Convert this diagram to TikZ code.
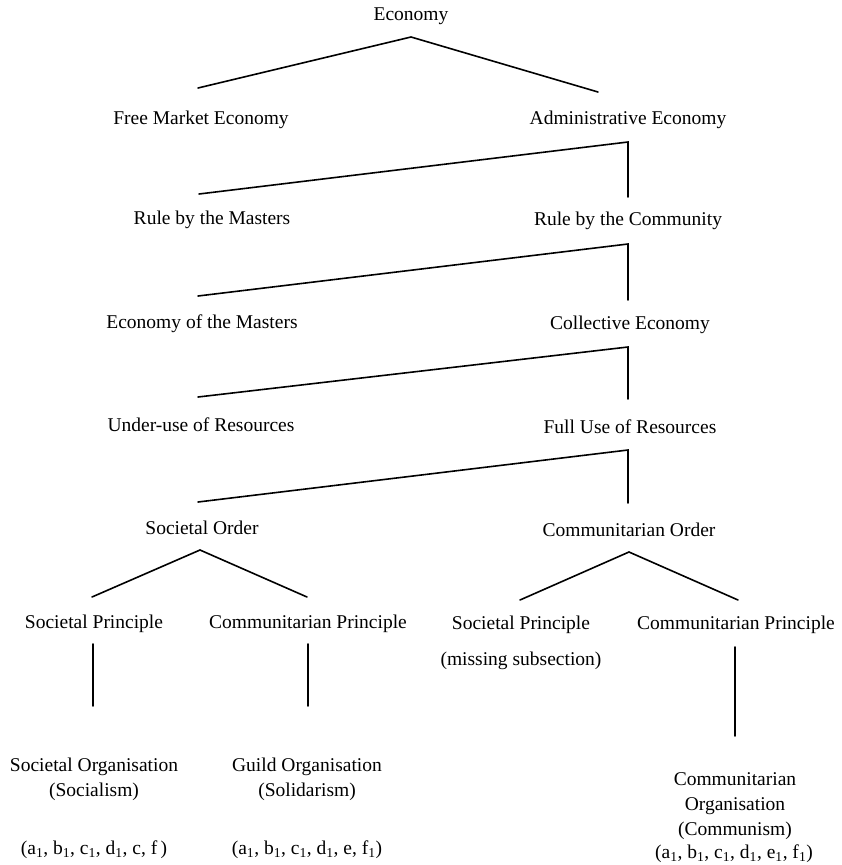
\documentclass[tikz,border=0pt]{standalone}
\usepackage{fontspec}
\setmainfont{Liberation Serif}
\begin{document}
\begin{tikzpicture}[x=1pt,y=-1pt,
  lbl/.style={inner sep=0pt, outer sep=0pt, anchor=base, align=center,
    font=\fontsize{19.5}{24.6}\selectfont},
  conn/.style={line width=1.6pt, line cap=round, line join=miter}]
\useasboundingbox[fill=white] (0,0) rectangle (841,865);
% texts
\node[lbl] (econ) at (411,20) {Economy};
\node[lbl] (free) at (201,124) {Free Market Economy};
\node[lbl] (admin) at (628,124) {Administrative Economy};
\node[lbl] (masters) at (212,224) {Rule by the Masters};
\node[lbl] (community) at (628,225) {Rule by the Community};
\node[lbl] (ecmasters) at (202,328) {Economy of the Masters};
\node[lbl] (collective) at (630,329) {Collective Economy};
\node[lbl] (underuse) at (201,431) {Under-use of Resources};
\node[lbl] (fulluse) at (630,433) {Full Use of Resources};
\node[lbl] (socorder) at (202,534) {Societal Order};
\node[lbl] (comorder) at (629,536) {Communitarian Order};
\node[lbl] (socpr1) at (94,628) {Societal Principle};
\node[lbl] (compr1) at (308,628) {Communitarian Principle};
\node[lbl] (socpr2) at (521,629) {Societal Principle};
\node[lbl] (compr2) at (736,629) {Communitarian Principle};
\node[lbl] (missing) at (521,665) {(missing subsection)};
\node[lbl] (socorg) at (94,796) {Societal Organisation\\(Socialism)};
\node[lbl] (guild) at (307,796) {Guild Organisation\\(Solidarism)};
\node[lbl] (comorg) at (735,835) {Communitarian\\Organisation\\(Communism)};
\node[lbl] (tup1) at (94,854) {(a\textsubscript{1}, b\textsubscript{1}, c\textsubscript{1}, d\textsubscript{1}, c, f\,)};
\node[lbl] (tup2) at (307,854) {(a\textsubscript{1}, b\textsubscript{1}, c\textsubscript{1}, d\textsubscript{1}, e, f\textsubscript{1})};
\node[lbl] (tup3) at (734,858) {(a\textsubscript{1}, b\textsubscript{1}, c\textsubscript{1}, d\textsubscript{1}, e\textsubscript{1}, f\textsubscript{1})};
% connector ends
\coordinate (econ-b) at (411,37);
\coordinate (free-t) at (198,88);
\coordinate (admin-t) at (598,92);
\coordinate (admin-b) at (628,142);
\coordinate (masters-t) at (199,194);
\coordinate (community-t) at (628,197);
\coordinate (community-b) at (628,244);
\coordinate (ecmasters-t) at (198,296);
\coordinate (collective-t) at (628,300);
\coordinate (collective-b) at (628,347);
\coordinate (underuse-t) at (198,397);
\coordinate (fulluse-t) at (628,399);
\coordinate (fulluse-b) at (628,450);
\coordinate (socorder-t) at (198,502);
\coordinate (comorder-t) at (628,503);
\coordinate (socorder-b) at (200,550);
\coordinate (socpr1-t) at (92,597);
\coordinate (compr1-t) at (307,597);
\coordinate (comorder-b) at (629,552);
\coordinate (socpr2-t) at (520,600);
\coordinate (compr2-t) at (738,600);
\coordinate (socpr1-b) at (93,644);
\coordinate (socorg-t) at (93,706);
\coordinate (compr1-b) at (308,644);
\coordinate (guild-t) at (308,706);
\coordinate (compr2-b) at (735,647);
\coordinate (comorg-t) at (735,736);
% connectors
\draw[conn] (free-t) -- (econ-b) -- (admin-t);
\draw[conn] (masters-t) -- (admin-b) -- (community-t);
\draw[conn] (ecmasters-t) -- (community-b) -- (collective-t);
\draw[conn] (underuse-t) -- (collective-b) -- (fulluse-t);
\draw[conn] (socorder-t) -- (fulluse-b) -- (comorder-t);
\draw[conn] (socpr1-t) -- (socorder-b) -- (compr1-t);
\draw[conn] (socpr2-t) -- (comorder-b) -- (compr2-t);
\draw[conn] (socpr1-b) -- (socorg-t);
\draw[conn] (compr1-b) -- (guild-t);
\draw[conn] (compr2-b) -- (comorg-t);
\end{tikzpicture}
\end{document}
